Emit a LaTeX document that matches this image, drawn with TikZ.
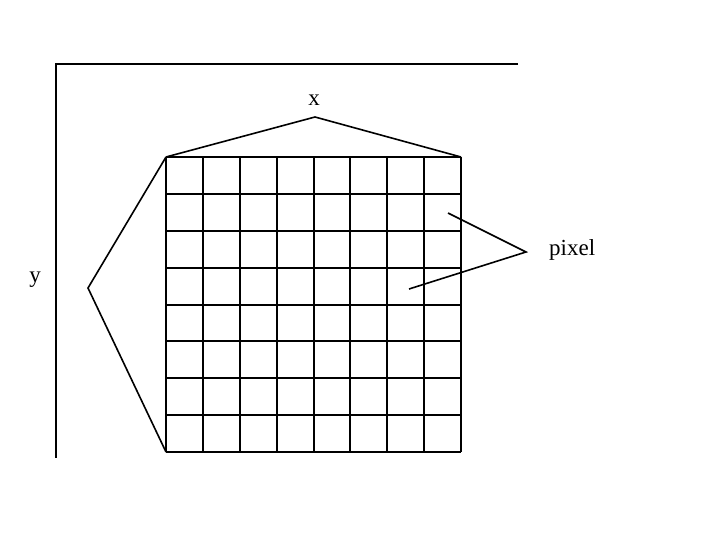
\documentclass[tikz,border=0pt]{standalone}
\usepackage{fontspec}
\setmainfont{Liberation Serif}
\begin{document}
\begin{tikzpicture}[x=1pt,y=-1pt,
  line/.style={line width=1.6pt,black},
  lbl/.style={font=\fontsize{23}{26}\selectfont,inner sep=0pt}]
\useasboundingbox (0,0) rectangle (726,537);
\fill[white] (0,0) rectangle (726,537);
% axes
\coordinate (o) at (56,64);
\coordinate (xend) at (518,64);
\coordinate (yend) at (56,458);
\draw[line] (xend) -- (o) -- (yend);
% grid
\coordinate (tl) at (166,157);
\coordinate (tr) at (461,157);
\coordinate (bl) at (166,452);
\coordinate (br) at (461,452);
\foreach \p in {166,203,240,277,314,350,387,424,461} {
  \draw[line] (\p,157) -- (\p,452);
}
\foreach \p in {157,194,231,268,305,341,378,415,452} {
  \draw[line] (166,\p) -- (461,\p);
}
% x brace
\node[lbl] (xl) at (314,100) {x};
\coordinate (xa) at (315,117);
\draw[line] (tl) -- (xa) -- (tr);
% y brace
\node[lbl] (yl) at (35,280) {y};
\coordinate (ya) at (88,288);
\draw[line] (tl) -- (ya) -- (bl);
% pixel
\node[lbl,anchor=west] (pl) at (549,250) {pixel};
\coordinate (pa) at (526,252);
\coordinate (p1) at (448,213);
\coordinate (p2) at (409,289);
\draw[line] (p1) -- (pa) -- (p2);
\end{tikzpicture}
\end{document}
